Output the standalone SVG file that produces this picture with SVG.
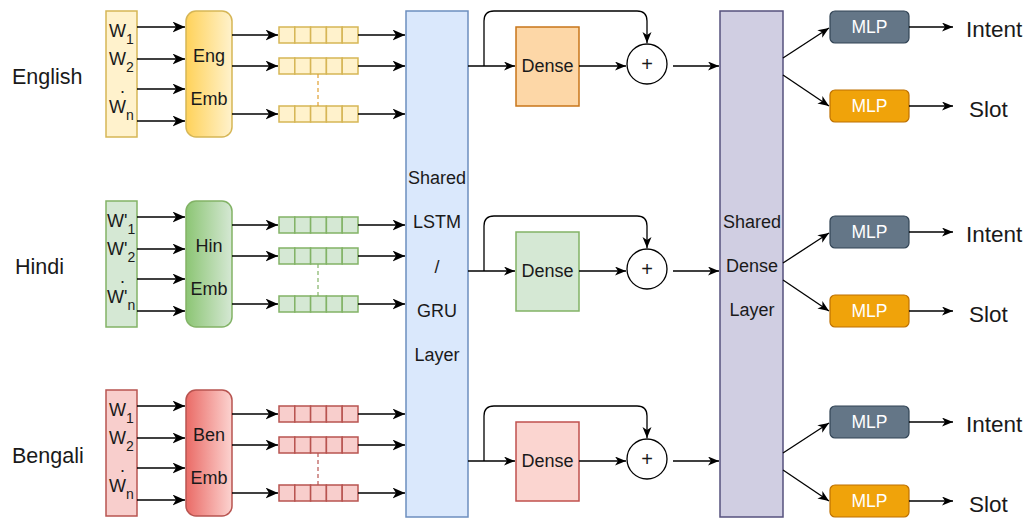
<svg xmlns="http://www.w3.org/2000/svg" width="1027" height="519" viewBox="0 0 1027 519">
<style>
text{font-family:"Liberation Sans",Arial,sans-serif;fill:#1a1a1a}
.lbl{font-size:21.5px}
.out{font-size:22.5px}
.w{font-size:18px}
.sub{font-size:14px}
.t18{font-size:18px}
.mlp{font-size:17.5px;fill:#ffffff}
.c{fill:none;stroke:#000;stroke-width:1.6;marker-end:url(#ahL)}
.cl{fill:none;stroke:#000;stroke-width:1.3;marker-end:url(#ah)}
.en{fill:#fff2cc;stroke:#d6b656;stroke-width:1.5}
.hi{fill:#d5e8d4;stroke:#82b366;stroke-width:1.5}
.bn{fill:#f8cecc;stroke:#b85450;stroke-width:1.5}
.dEn{fill:#fdd7a7;stroke:#c8761a;stroke-width:1.5}
.dHi{fill:#d5e8d4;stroke:#82b366;stroke-width:1.5}
.dBn{fill:#fbd5d0;stroke:#c0504d;stroke-width:1.5}
.mi{fill:#647687;stroke:#314354;stroke-width:1.2}
.ms{fill:#f0a30a;stroke:#bd7000;stroke-width:1.2}
.plus{fill:#fff;stroke:#000;stroke-width:1.3}
</style>
<defs>
<marker id="ah" markerUnits="userSpaceOnUse" markerWidth="12" markerHeight="10" refX="11" refY="4.5" orient="auto">
<path d="M0,0 L11,4.5 L0,9 L3,4.5 z" fill="#000"/>
</marker>
<marker id="ahL" markerUnits="userSpaceOnUse" markerWidth="14" markerHeight="12" refX="12.5" refY="5.5" orient="auto">
<path d="M0,0 L12.5,5.5 L0,11 L3.5,5.5 z" fill="#000"/>
</marker>
<linearGradient id="gEn" x1="0" y1="0" x2="1" y2="0"><stop offset="0" stop-color="#ffd25a"/><stop offset="1" stop-color="#fff2cc"/></linearGradient>
<linearGradient id="gHi" x1="0" y1="0" x2="1" y2="0"><stop offset="0" stop-color="#8cc574"/><stop offset="1" stop-color="#d5e8d4"/></linearGradient>
<linearGradient id="gBn" x1="0" y1="0" x2="1" y2="0"><stop offset="0" stop-color="#ea6b66"/><stop offset="1" stop-color="#fcd3d0"/></linearGradient>
<g id="vec">
<rect x="0" y="0" width="15.8" height="16"/><rect x="15.8" y="0" width="15.8" height="16"/><rect x="31.6" y="0" width="15.8" height="16"/><rect x="47.4" y="0" width="15.8" height="16"/><rect x="63.2" y="0" width="15.8" height="16"/>
</g>
</defs>

<g id="label-english"><text class="lbl" x="12" y="84">English</text></g>
<g id="label-hindi"><text class="lbl" x="15" y="274">Hindi</text></g>
<g id="label-bengali"><text class="lbl" x="12" y="463">Bengali</text></g>

<g id="words-en">
<rect class="en" x="106" y="11" width="31" height="126"/>
<text class="w" x="109" y="37">W<tspan class="sub" dy="7">1</tspan></text>
<text class="w" x="109" y="65">W<tspan class="sub" dy="7">2</tspan></text>
<text class="w" x="120" y="93">.</text>
<text class="w" x="109" y="113">W<tspan class="sub" dy="7">n</tspan></text>
</g>
<g id="emb-en">
<rect x="186" y="11" width="46" height="126" rx="10" fill="url(#gEn)" stroke="#d6b656" stroke-width="1.5"/>
<text class="t18" x="209" y="62" text-anchor="middle">Eng</text>
<text class="t18" x="209" y="105" text-anchor="middle">Emb</text>
</g>
<g id="vectors-en" class="en">
<use href="#vec" x="279" y="27"/><use href="#vec" x="279" y="58"/><use href="#vec" x="279" y="106"/>
<line x1="318" y1="74" x2="318" y2="106" stroke="#e0a030" stroke-dasharray="4 3" stroke-width="1.2"/>
</g>

<g id="words-hi">
<rect class="hi" x="106" y="201" width="31" height="126"/>
<text class="w" x="107" y="227">W'<tspan class="sub" dy="7">1</tspan></text>
<text class="w" x="107" y="255">W'<tspan class="sub" dy="7">2</tspan></text>
<text class="w" x="120" y="283">.</text>
<text class="w" x="107" y="303">W'<tspan class="sub" dy="7">n</tspan></text>
</g>
<g id="emb-hi">
<rect x="186" y="201" width="46" height="126" rx="10" fill="url(#gHi)" stroke="#82b366" stroke-width="1.5"/>
<text class="t18" x="209" y="252" text-anchor="middle">Hin</text>
<text class="t18" x="209" y="295" text-anchor="middle">Emb</text>
</g>
<g id="vectors-hi" class="hi">
<use href="#vec" x="279" y="217"/><use href="#vec" x="279" y="248"/><use href="#vec" x="279" y="296"/>
<line x1="318" y1="264" x2="318" y2="296" stroke="#82b366" stroke-dasharray="4 3" stroke-width="1.2"/>
</g>

<g id="words-bn">
<rect class="bn" x="106" y="390" width="31" height="126"/>
<text class="w" x="109" y="416">W<tspan class="sub" dy="7">1</tspan></text>
<text class="w" x="109" y="444">W<tspan class="sub" dy="7">2</tspan></text>
<text class="w" x="120" y="472">.</text>
<text class="w" x="109" y="492">W<tspan class="sub" dy="7">n</tspan></text>
</g>
<g id="emb-bn">
<rect x="186" y="390" width="46" height="126" rx="10" fill="url(#gBn)" stroke="#b85450" stroke-width="1.5"/>
<text class="t18" x="209" y="441" text-anchor="middle">Ben</text>
<text class="t18" x="209" y="484" text-anchor="middle">Emb</text>
</g>
<g id="vectors-bn" class="bn">
<use href="#vec" x="279" y="406"/><use href="#vec" x="279" y="437"/><use href="#vec" x="279" y="485"/>
<line x1="318" y1="453" x2="318" y2="485" stroke="#b85450" stroke-dasharray="4 3" stroke-width="1.2"/>
</g>

<g id="shared-lstm">
<rect x="406" y="11" width="62" height="506" fill="#dae8fc" stroke="#6c8ebf" stroke-width="1.5"/>
<text class="t18" x="437" y="184" text-anchor="middle">Shared</text>
<text class="t18" x="437" y="228" text-anchor="middle">LSTM</text>
<text class="t18" x="437" y="273" text-anchor="middle">/</text>
<text class="t18" x="437" y="317" text-anchor="middle">GRU</text>
<text class="t18" x="437" y="361" text-anchor="middle">Layer</text>
</g>

<g id="dense-en"><rect class="dEn" x="516" y="27" width="63" height="79"/><text class="t18" x="547.5" y="72" text-anchor="middle">Dense</text></g>
<g id="dense-hi"><rect class="dHi" x="516" y="232" width="63" height="79"/><text class="t18" x="547.5" y="277" text-anchor="middle">Dense</text></g>
<g id="dense-bn"><rect class="dBn" x="516" y="422" width="63" height="79"/><text class="t18" x="547.5" y="467" text-anchor="middle">Dense</text></g>
<g id="sum-en"><circle class="plus" cx="647" cy="64" r="20"/><text x="647" y="71" font-size="20" text-anchor="middle">+</text></g>
<g id="sum-hi"><circle class="plus" cx="647" cy="269" r="20"/><text x="647" y="276" font-size="20" text-anchor="middle">+</text></g>
<g id="sum-bn"><circle class="plus" cx="647" cy="459" r="20"/><text x="647" y="466" font-size="20" text-anchor="middle">+</text></g>

<g id="shared-dense">
<rect x="720" y="11" width="63" height="506" fill="#d0cee2" stroke="#56517e" stroke-width="1.5"/>
<text class="t18" x="752" y="228" text-anchor="middle">Shared</text>
<text class="t18" x="752" y="272" text-anchor="middle">Dense</text>
<text class="t18" x="752" y="316" text-anchor="middle">Layer</text>
</g>

<g id="mlp-intent-en"><rect class="mi" x="830" y="11" width="79" height="32" rx="5"/><text class="mlp" x="869.5" y="33" text-anchor="middle">MLP</text></g>
<g id="mlp-slot-en"><rect class="ms" x="830" y="90" width="79" height="32" rx="5"/><text class="mlp" x="869.5" y="112" text-anchor="middle">MLP</text></g>
<g id="mlp-intent-hi"><rect class="mi" x="830" y="216" width="79" height="32" rx="5"/><text class="mlp" x="869.5" y="238" text-anchor="middle">MLP</text></g>
<g id="mlp-slot-hi"><rect class="ms" x="830" y="295" width="79" height="32" rx="5"/><text class="mlp" x="869.5" y="317" text-anchor="middle">MLP</text></g>
<g id="mlp-intent-bn"><rect class="mi" x="830" y="406" width="79" height="32" rx="5"/><text class="mlp" x="869.5" y="428" text-anchor="middle">MLP</text></g>
<g id="mlp-slot-bn"><rect class="ms" x="830" y="485" width="79" height="32" rx="5"/><text class="mlp" x="869.5" y="507" text-anchor="middle">MLP</text></g>

<g id="out-en"><text class="out" x="966" y="37">Intent</text><text class="out" x="969" y="117">Slot</text></g>
<g id="out-hi"><text class="out" x="966" y="242">Intent</text><text class="out" x="969" y="322">Slot</text></g>
<g id="out-bn"><text class="out" x="966" y="432">Intent</text><text class="out" x="969" y="512">Slot</text></g>

<g id="connectors">
<path class="c" d="M137,27 H185"/><path class="c" d="M137,59 H185"/><path class="c" d="M137,89 H185"/><path class="c" d="M137,121 H185"/>
<path class="c" d="M137,217 H185"/><path class="c" d="M137,249 H185"/><path class="c" d="M137,279 H185"/><path class="c" d="M137,311 H185"/>
<path class="c" d="M137,406 H185"/><path class="c" d="M137,438 H185"/><path class="c" d="M137,468 H185"/><path class="c" d="M137,500 H185"/>
<path class="c" d="M232,35 H278"/><path class="c" d="M232,66 H278"/><path class="c" d="M232,114 H278"/>
<path class="c" d="M232,225 H278"/><path class="c" d="M232,256 H278"/><path class="c" d="M232,304 H278"/>
<path class="c" d="M232,414 H278"/><path class="c" d="M232,445 H278"/><path class="c" d="M232,493 H278"/>
<path class="c" d="M358,35 H405"/><path class="c" d="M358,66 H405"/><path class="c" d="M358,114 H405"/>
<path class="c" d="M358,225 H405"/><path class="c" d="M358,256 H405"/><path class="c" d="M358,304 H405"/>
<path class="c" d="M358,414 H405"/><path class="c" d="M358,445 H405"/><path class="c" d="M358,493 H405"/>

<path class="cl" d="M468,66 H515"/><path class="cl" d="M579,66 H626"/><path class="cl" d="M673,66 H719"/>
<path class="cl" d="M484,66 V21 Q484,11 494,11 H637 Q647,11 647,21 V43"/>
<path class="cl" d="M468,271 H515"/><path class="cl" d="M579,271 H626"/><path class="cl" d="M673,271 H719"/>
<path class="cl" d="M484,271 V226 Q484,216 494,216 H637 Q647,216 647,226 V248"/>
<path class="cl" d="M468,461 H515"/><path class="cl" d="M579,461 H626"/><path class="cl" d="M673,461 H719"/>
<path class="cl" d="M484,461 V416 Q484,406 494,406 H637 Q647,406 647,416 V438"/>

<path class="cl" d="M783,58 L829,28"/><path class="cl" d="M783,75 L829,106"/>
<path class="cl" d="M783,263 L829,233"/><path class="cl" d="M783,280 L829,311"/>
<path class="cl" d="M783,453 L829,423"/><path class="cl" d="M783,470 L829,501"/>
<path class="cl" d="M909,27 H953"/><path class="cl" d="M909,106 H953"/>
<path class="cl" d="M909,232 H953"/><path class="cl" d="M909,311 H953"/>
<path class="cl" d="M909,422 H953"/><path class="cl" d="M909,501 H953"/>
</g>
</svg>
